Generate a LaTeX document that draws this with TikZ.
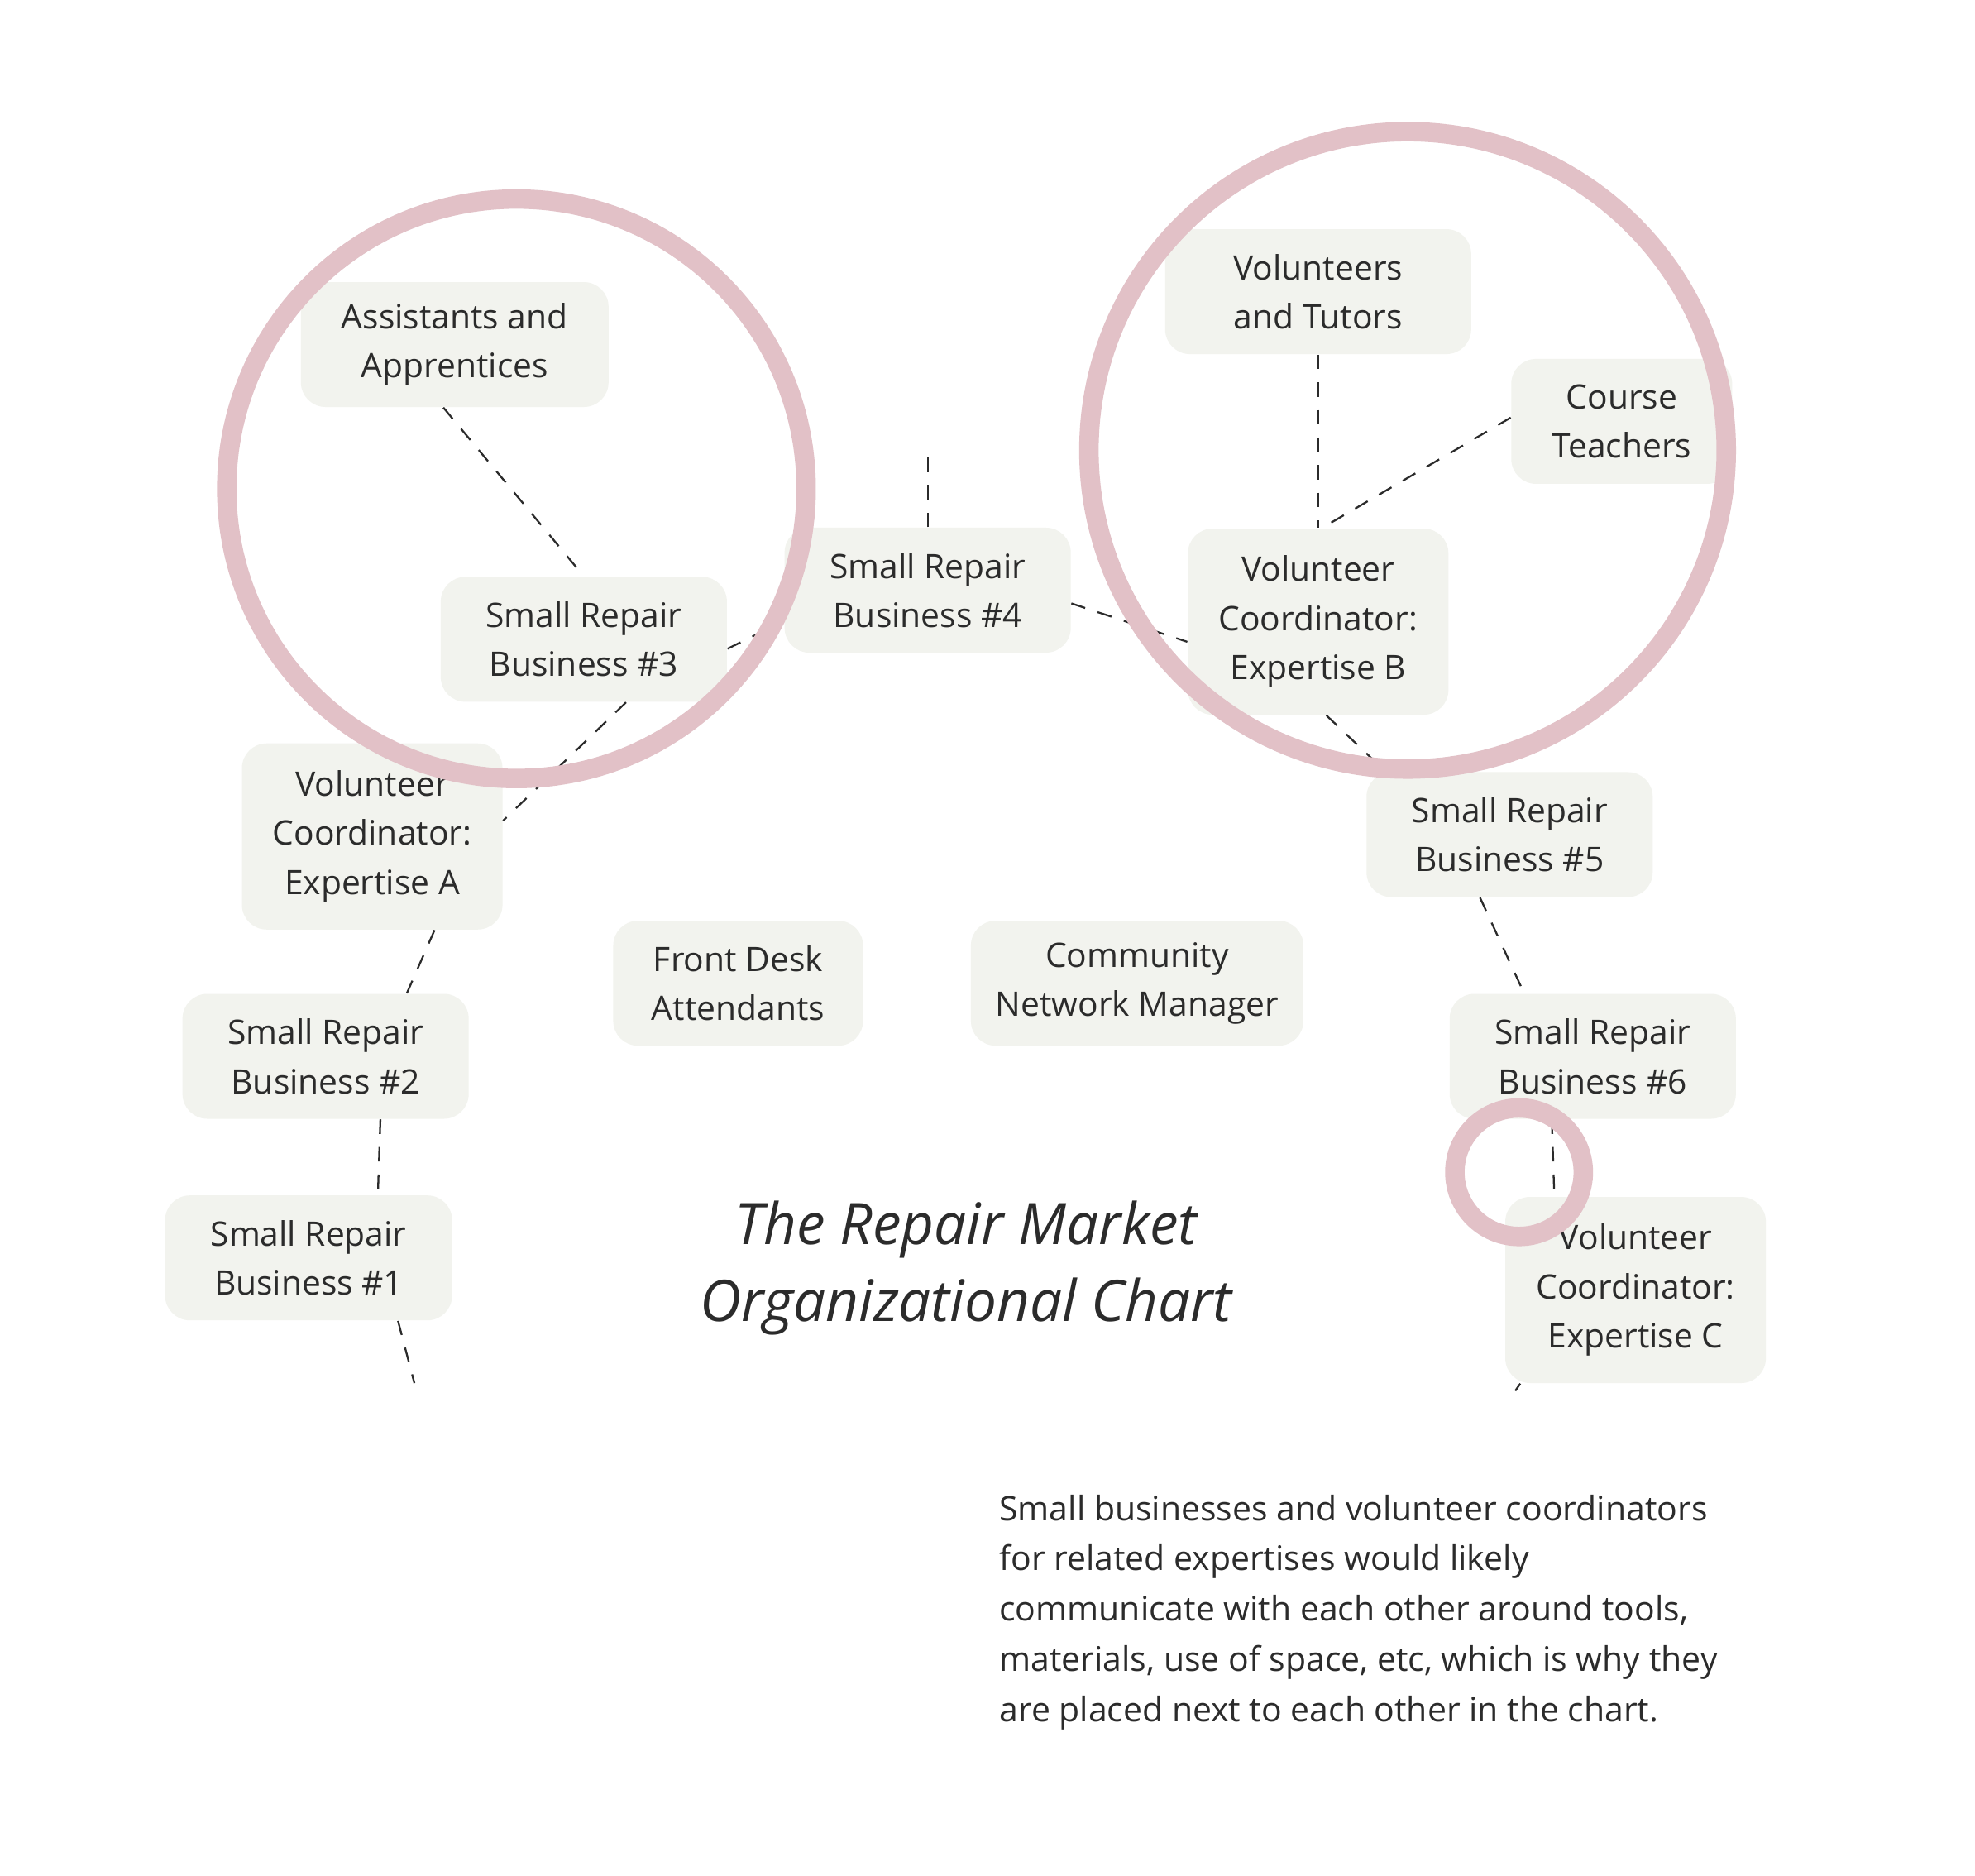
\documentclass[tikz,border=0pt]{standalone}
\usepackage{fontspec}
\setmainfont{Open Sans}
\usepackage{tikz}
\usetikzlibrary{positioning,calc}
\definecolor{ink}{RGB}{43,43,43}
\definecolor{paper}{RGB}{242,243,238}
\definecolor{rose}{RGB}{226,193,199}

\begin{document}
\begin{tikzpicture}[
    x=0.01523cm, y=-0.01523cm,
    unit/.style={fill=paper, rounded corners=3mm, minimum width=3.46cm, minimum height=1.51cm,
                inner sep=0pt, align=center, text=ink, font=\fontsize{11.6}{16.9}\selectfont},
    tall/.style={unit, minimum width=3.15cm, minimum height=2.25cm},
    link/.style={draw=ink, line width=0.65pt, dash pattern=on 5pt off 4.5pt},
    ring/.style={draw=rose, line width=6.7pt}
]
\fill[white] (0,0) rectangle (1568,1489);
\useasboundingbox (0,0) rectangle (1568,1489);

\node[unit, minimum width=3.72cm] (aa) at (361,273.5) {Assistants and\\Apprentices};
\node[unit] (b3) at (463.5,507.5) {Small Repair\\Business \#3};
\node[unit] (b4) at (736.5,468.5) {Small Repair\\Business \#4};
\node[unit, minimum width=3.70cm] (vt) at (1046.5,231.5) {Volunteers\\and Tutors};
\node[unit, minimum width=2.67cm] (ct) at (1287.5,334.5) {Course\\Teachers};
\node[tall] (vb) at (1046.5,493.5) {Volunteer\\Coordinator:\\Expertise B};
\node[unit] (b5) at (1198.5,662.5) {Small Repair\\Business \#5};
\node[unit] (b6) at (1264.5,838.5) {Small Repair\\Business \#6};
\node[tall] (vc) at (1298.5,1024) {Volunteer\\Coordinator:\\Expertise C};
\node[tall] (va) at (295.5,664) {Volunteer\\Coordinator:\\Expertise A};
\node[unit] (b2) at (258.5,838.5) {Small Repair\\Business \#2};
\node[unit, minimum width=3.47cm] (b1) at (245,998.5) {Small Repair\\Business \#1};
\node[unit, minimum width=3.02cm] (fd) at (586,780.5) {Front Desk\\Attendants};
\node[unit, minimum width=4.02cm, right=1.29cm of fd] (cn) {Community\\Network Manager};

\node[text=ink, align=center, font=\fontsize{19.7}{26.4}\selectfont\itshape] (title) at (767,1006.5) {The Repair Market\\Organizational Chart};
\node[text=ink, align=left, anchor=north west, inner sep=0pt, font=\fontsize{11.65}{17.3}\selectfont] (note) at (793,1186)
    {Small businesses and volunteer coordinators\\for related expertises would likely\\communicate with each other around tools,\\materials, use of space, etc, which is why they\\are placed next to each other in the chart.};

\coordinate (up4) at (736.5,357);
\coordinate (end1) at (329,1098);
\coordinate (endc) at (1203,1104);

\draw[link] ($(aa.south)+(-9,0)$) -- (b3.north);
\draw[link] ($(b3.south)+(33.5,0)$) -- ($(va.east)+(0,-12.5)$);
\draw[link] ($(b3.east)+(0,7.5)$) -- ($(b4.west)+(0,24.5)$);
\draw[link] (b4.north) -- (up4);
\draw[link] ($(b4.east)+(0,10.5)$) -- ($(vb.west)+(0,16)$);
\draw[link] (vt.south) -- (vb.north);
\draw[link] ($(ct.west)+(0,-3)$) -- ($(vb.north)+(3,0)$);
\draw[link] ($(vb.south)+(6.5,0)$) -- ($(b5.north)+(-98.5,0)$);
\draw[link] ($(b5.south)+(-23.5,0)$) -- ($(b6.north)+(-54.5,0)$);
\draw[link] ($(b6.south)+(-32.5,0)$) -- ($(vc.north)+(-64.5,0)$);
\draw[link] ($(vc.south)+(-91.5,0)$) -- (endc);
\draw[link] ($(va.south)+(49.5,0)$) -- ($(b2.north)+(64.5,0)$);
\draw[link] ($(b2.south)+(43.5,0)$) -- ($(b1.north)+(55,0)$);
\draw[link] ($(b1.south)+(71,0)$) -- (end1);

\draw[ring] (410,388) circle[radius=230];
\draw[ring] (1117.5,357.5) circle[radius=253];
\draw[ring] (1206,930.5) circle[radius=51];
\end{tikzpicture}
\end{document}
